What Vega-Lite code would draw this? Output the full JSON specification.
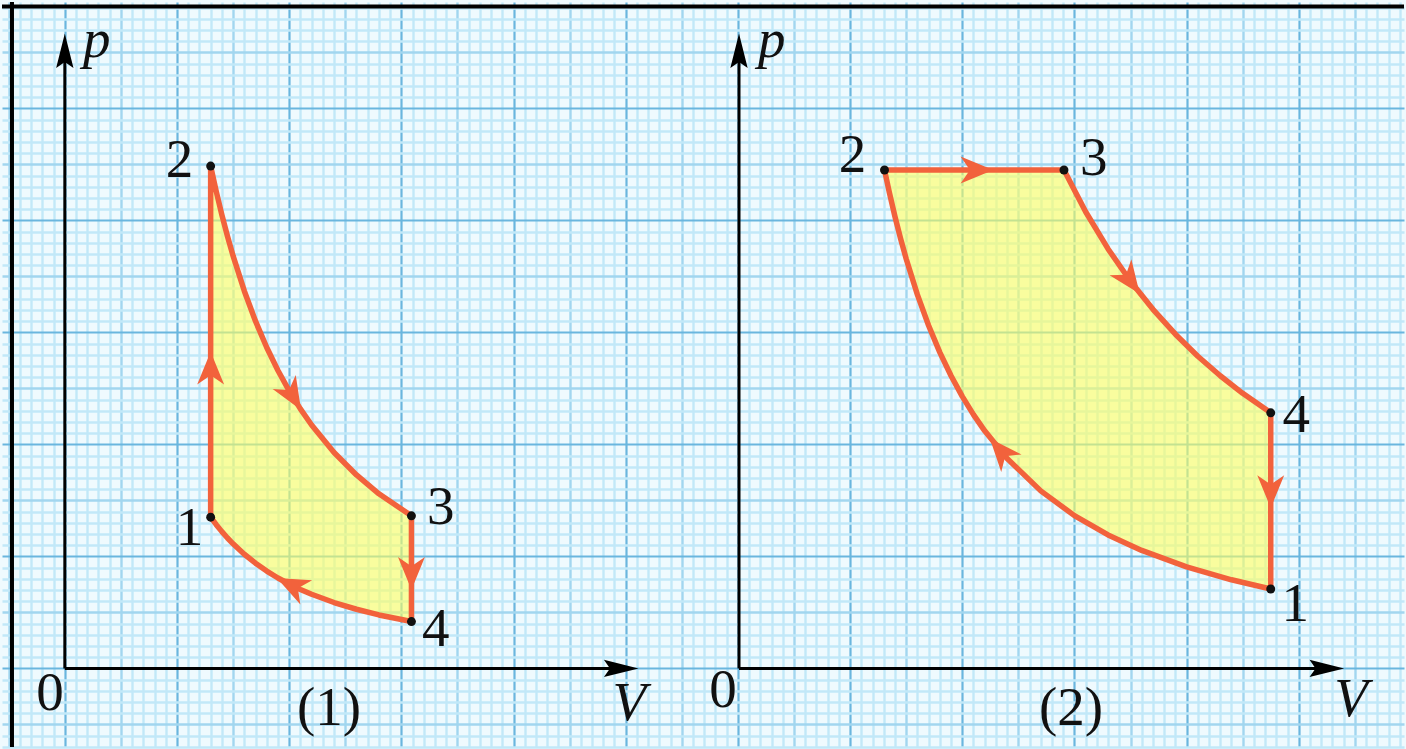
{
  "$schema": "https://vega.github.io/schema/vega-lite/v6.json",
  "width": 1406,
  "height": 749,
  "autosize": {"type": "fit", "contains": "padding"},
  "padding": 0,
  "background": "#effafe",
  "config": {"view": {"stroke": null}},
  "datasets": {
    "fill": [
      {"g": "L", "x": 13, "y": 44.85, "y2": 13.5},
      {"g": "L", "x": 13.5, "y": 42.58, "y2": 12.83},
      {"g": "L", "x": 14, "y": 40.5, "y2": 12.21},
      {"g": "L", "x": 14.5, "y": 38.59, "y2": 11.64},
      {"g": "L", "x": 15, "y": 36.83, "y2": 11.12},
      {"g": "L", "x": 16, "y": 33.7, "y2": 10.19},
      {"g": "L", "x": 17, "y": 31.0, "y2": 9.39},
      {"g": "L", "x": 18, "y": 28.65, "y2": 8.69},
      {"g": "L", "x": 19, "y": 26.6, "y2": 8.07},
      {"g": "L", "x": 20, "y": 24.78, "y2": 7.53},
      {"g": "L", "x": 21, "y": 23.17, "y2": 7.05},
      {"g": "L", "x": 22, "y": 21.73, "y2": 6.62},
      {"g": "L", "x": 24, "y": 19.28, "y2": 5.88},
      {"g": "L", "x": 26, "y": 17.27, "y2": 5.28},
      {"g": "L", "x": 28, "y": 15.59, "y2": 4.77},
      {"g": "L", "x": 30.9, "y": 13.62, "y2": 4.18},
      {"g": "R", "x": 73.07, "y": 44.5, "y2": 44.5},
      {"g": "R", "x": 73.5, "y": 44.5, "y2": 42.5},
      {"g": "R", "x": 74, "y": 44.5, "y2": 40.35},
      {"g": "R", "x": 74.5, "y": 44.5, "y2": 38.39},
      {"g": "R", "x": 75, "y": 44.5, "y2": 36.58},
      {"g": "R", "x": 76, "y": 44.5, "y2": 33.37},
      {"g": "R", "x": 77, "y": 44.5, "y2": 30.61},
      {"g": "R", "x": 78, "y": 44.5, "y2": 28.22},
      {"g": "R", "x": 79, "y": 44.5, "y2": 26.13},
      {"g": "R", "x": 80, "y": 44.5, "y2": 24.29},
      {"g": "R", "x": 81, "y": 44.5, "y2": 22.66},
      {"g": "R", "x": 82, "y": 44.5, "y2": 21.21},
      {"g": "R", "x": 84, "y": 44.5, "y2": 18.74},
      {"g": "R", "x": 87, "y": 44.5, "y2": 15.85},
      {"g": "R", "x": 89.07, "y": 44.5, "y2": 14.27},
      {"g": "R", "x": 90, "y": 42.63, "y2": 13.64},
      {"g": "R", "x": 91, "y": 40.77, "y2": 13.02},
      {"g": "R", "x": 93, "y": 37.45, "y2": 11.91},
      {"g": "R", "x": 95, "y": 34.57, "y2": 10.96},
      {"g": "R", "x": 97, "y": 32.06, "y2": 10.12},
      {"g": "R", "x": 99, "y": 29.84, "y2": 9.39},
      {"g": "R", "x": 101, "y": 27.87, "y2": 8.75},
      {"g": "R", "x": 103, "y": 26.13, "y2": 8.18},
      {"g": "R", "x": 105, "y": 24.56, "y2": 7.66},
      {"g": "R", "x": 107.5, "y": 22.82, "y2": 7.09}
    ],
    "cycle": [
      {"g": "L", "i": 0, "x": 13, "y": 13.5},
      {"g": "L", "i": 1, "x": 13, "y": 44.85},
      {"g": "L", "i": 1.5, "x": 13.5, "y": 42.58},
      {"g": "L", "i": 2, "x": 14, "y": 40.5},
      {"g": "L", "i": 2.5, "x": 14.5, "y": 38.59},
      {"g": "L", "i": 3, "x": 15, "y": 36.83},
      {"g": "L", "i": 4, "x": 16, "y": 33.7},
      {"g": "L", "i": 5, "x": 17, "y": 31.0},
      {"g": "L", "i": 6, "x": 18, "y": 28.65},
      {"g": "L", "i": 6.5, "x": 19, "y": 26.6},
      {"g": "L", "i": 7, "x": 20, "y": 24.78},
      {"g": "L", "i": 7.5, "x": 21, "y": 23.17},
      {"g": "L", "i": 8, "x": 22, "y": 21.73},
      {"g": "L", "i": 9, "x": 24, "y": 19.28},
      {"g": "L", "i": 10, "x": 26, "y": 17.27},
      {"g": "L", "i": 11, "x": 28, "y": 15.59},
      {"g": "L", "i": 12, "x": 30.9, "y": 13.62},
      {"g": "L", "i": 13, "x": 30.9, "y": 4.18},
      {"g": "L", "i": 14, "x": 28, "y": 4.77},
      {"g": "L", "i": 15, "x": 26, "y": 5.28},
      {"g": "L", "i": 16, "x": 24, "y": 5.88},
      {"g": "L", "i": 17, "x": 22, "y": 6.62},
      {"g": "L", "i": 17.5, "x": 21, "y": 7.05},
      {"g": "L", "i": 18, "x": 20, "y": 7.53},
      {"g": "L", "i": 18.5, "x": 19, "y": 8.07},
      {"g": "L", "i": 19, "x": 18, "y": 8.69},
      {"g": "L", "i": 20, "x": 17, "y": 9.39},
      {"g": "L", "i": 21, "x": 16, "y": 10.19},
      {"g": "L", "i": 22, "x": 15, "y": 11.12},
      {"g": "L", "i": 22.5, "x": 14.5, "y": 11.64},
      {"g": "L", "i": 23, "x": 14, "y": 12.21},
      {"g": "L", "i": 23.5, "x": 13.5, "y": 12.83},
      {"g": "L", "i": 24, "x": 13, "y": 13.5},
      {"g": "R", "i": 0, "x": 73.07, "y": 44.5},
      {"g": "R", "i": 1, "x": 89.07, "y": 44.5},
      {"g": "R", "i": 2, "x": 91, "y": 40.77},
      {"g": "R", "i": 3, "x": 93, "y": 37.45},
      {"g": "R", "i": 4, "x": 95, "y": 34.57},
      {"g": "R", "i": 5, "x": 97, "y": 32.06},
      {"g": "R", "i": 6, "x": 99, "y": 29.84},
      {"g": "R", "i": 7, "x": 101, "y": 27.87},
      {"g": "R", "i": 8, "x": 103, "y": 26.13},
      {"g": "R", "i": 9, "x": 105, "y": 24.56},
      {"g": "R", "i": 10, "x": 107.5, "y": 22.82},
      {"g": "R", "i": 11, "x": 107.5, "y": 7.09},
      {"g": "R", "i": 12, "x": 104, "y": 7.91},
      {"g": "R", "i": 13, "x": 100, "y": 9.06},
      {"g": "R", "i": 14, "x": 96, "y": 10.53},
      {"g": "R", "i": 15, "x": 93, "y": 11.91},
      {"g": "R", "i": 16, "x": 90, "y": 13.64},
      {"g": "R", "i": 17, "x": 87, "y": 15.85},
      {"g": "R", "i": 18, "x": 84, "y": 18.74},
      {"g": "R", "i": 19, "x": 82, "y": 21.21},
      {"g": "R", "i": 19.5, "x": 81, "y": 22.66},
      {"g": "R", "i": 20, "x": 80, "y": 24.29},
      {"g": "R", "i": 20.5, "x": 79, "y": 26.13},
      {"g": "R", "i": 21, "x": 78, "y": 28.22},
      {"g": "R", "i": 22, "x": 77, "y": 30.61},
      {"g": "R", "i": 23, "x": 76, "y": 33.37},
      {"g": "R", "i": 24, "x": 75, "y": 36.58},
      {"g": "R", "i": 24.5, "x": 74.5, "y": 38.39},
      {"g": "R", "i": 25, "x": 74, "y": 40.35},
      {"g": "R", "i": 25.5, "x": 73.5, "y": 42.5},
      {"g": "R", "i": 26, "x": 73.07, "y": 44.5}
    ],
    "axes": [
      {"x": 0, "y": 0, "x2": 0, "y2": 55.3},
      {"x": 0, "y": 0, "x2": 49.8, "y2": 0},
      {"x": 60.1, "y": 0, "x2": 60.1, "y2": 55.3},
      {"x": 60.1, "y": 0, "x2": 112.4, "y2": 0}
    ],
    "axisHeads": [
      {"x": 0, "y": 55.15, "a": 0},
      {"x": 49.6, "y": 0, "a": 90},
      {"x": 60.1, "y": 55.15, "a": 0},
      {"x": 112.5, "y": 0, "a": 90}
    ],
    "curveHeads": [
      {"x": 13.0, "y": 26.6, "a": 0},
      {"x": 20.2, "y": 24.5, "a": 149},
      {"x": 30.9, "y": 8.7, "a": 180},
      {"x": 20.4, "y": 7.33, "a": 296},
      {"x": 81.1, "y": 44.5, "a": 90},
      {"x": 94.84, "y": 34.8, "a": 144},
      {"x": 107.5, "y": 16.0, "a": 180},
      {"x": 83.56, "y": 19.26, "a": 319}
    ],
    "dots": [
      {"x": 13, "y": 13.5},
      {"x": 13, "y": 44.85},
      {"x": 30.9, "y": 13.62},
      {"x": 30.9, "y": 4.18},
      {"x": 73.07, "y": 44.5},
      {"x": 89.07, "y": 44.5},
      {"x": 107.5, "y": 22.82},
      {"x": 107.5, "y": 7.09}
    ],
    "labels": [
      {"t": "2", "x": 10.22, "y": 45.38},
      {"t": "1", "x": 11.11, "y": 12.52},
      {"t": "3", "x": 33.51, "y": 14.39},
      {"t": "4", "x": 33.07, "y": 3.55},
      {"t": "0", "x": -1.33, "y": -2.22},
      {"t": "(1)", "x": 23.56, "y": -3.55},
      {"t": "2", "x": 70.22, "y": 45.83},
      {"t": "3", "x": 91.73, "y": 45.56},
      {"t": "4", "x": 109.78, "y": 22.65},
      {"t": "1", "x": 109.69, "y": 5.77},
      {"t": "0", "x": 58.67, "y": -1.95},
      {"t": "(2)", "x": 89.69, "y": -3.55}
    ],
    "italicLabels": [
      {"t": "p", "x": 2.84, "y": 56.13},
      {"t": "V", "x": 50.31, "y": -3.11},
      {"t": "p", "x": 63.02, "y": 56.13},
      {"t": "V", "x": 114.67, "y": -2.75}
    ],
    "frame": [
      {"x": -5.6, "x2": 119.38, "y": 59.1, "y2": 59.1},
      {"x": -4.71, "x2": -4.71, "y": -7.02, "y2": 59.5}
    ]
  },
  "encoding": {
    "x": {
      "field": "x",
      "type": "quantitative",
      "scale": {"domain": [-5.6, 119.38], "nice": false, "zero": false},
      "axis": {
        "values": [-5,-4,-3,-2,-1,0,1,2,3,4,5,6,7,8,9,10,11,12,13,14,15,16,17,18,19,20,21,22,23,24,25,26,27,28,29,30,31,32,33,34,35,36,37,38,39,40,41,42,43,44,45,46,47,48,49,50,51,52,53,54,55,56,57,58,59,60,61,62,63,64,65,66,67,68,69,70,71,72,73,74,75,76,77,78,79,80,81,82,83,84,85,86,87,88,89,90,91,92,93,94,95,96,97,98,99,100,101,102,103,104,105,106,107,108,109,110,111,112,113,114,115,116,117,118,119],
        "labels": false,
        "ticks": false,
        "domain": false,
        "title": null,
        "grid": true,
        "gridColor": {"condition": [{"test": "datum.value % 10 === 0", "value": "#6ab6de"}, {"test": "datum.value % 5 === 0", "value": "#a2d6ef"}], "value": "#c2e8f8"},
        "gridWidth": {"condition": {"test": "datum.value % 10 === 0", "value": 2.2}, "value": 2.4}
      }
    },
    "y": {
      "field": "y",
      "type": "quantitative",
      "scale": {"domain": [-7.02, 59.5], "nice": false, "zero": false},
      "axis": {
        "values": [-7,-6,-5,-4,-3,-2,-1,0,1,2,3,4,5,6,7,8,9,10,11,12,13,14,15,16,17,18,19,20,21,22,23,24,25,26,27,28,29,30,31,32,33,34,35,36,37,38,39,40,41,42,43,44,45,46,47,48,49,50,51,52,53,54,55,56,57,58,59],
        "labels": false,
        "ticks": false,
        "domain": false,
        "title": null,
        "grid": true,
        "gridColor": {"condition": [{"test": "datum.value % 10 === 0", "value": "#6ab6de"}, {"test": "datum.value % 5 === 0", "value": "#a2d6ef"}], "value": "#c2e8f8"},
        "gridWidth": {"condition": {"test": "datum.value % 10 === 0", "value": 2.2}, "value": 2.4}
      }
    }
  },
  "layer": [
    {
      "data": {"name": "fill"},
      "mark": {"type": "area", "color": "#ffff5e", "opacity": 0.6},
      "encoding": {"y2": {"field": "y2"}, "detail": {"field": "g"}}
    },
    {
      "data": {"name": "axes"},
      "mark": {"type": "rule", "color": "#000000", "strokeWidth": 3},
      "encoding": {"x2": {"field": "x2"}, "y2": {"field": "y2"}}
    },
    {
      "data": {"name": "axisHeads"},
      "mark": {"type": "point", "shape": "M0,-1L0.5,1L0,0.65L-0.5,1Z", "filled": true, "color": "#000000", "opacity": 1, "size": 1200},
      "encoding": {"angle": {"field": "a", "type": "quantitative", "scale": null}}
    },
    {
      "data": {"name": "cycle"},
      "mark": {"type": "line", "color": "#f2623c", "strokeWidth": 5.5, "strokeJoin": "round", "strokeCap": "round"},
      "encoding": {"order": {"field": "i"}, "detail": {"field": "g"}}
    },
    {
      "data": {"name": "curveHeads"},
      "mark": {"type": "point", "shape": "M0,-1L0.72,0.75L0,0.25L-0.72,0.75Z", "filled": true, "color": "#f2623c", "opacity": 1, "size": 1400},
      "encoding": {"angle": {"field": "a", "type": "quantitative", "scale": null}}
    },
    {
      "data": {"name": "dots"},
      "mark": {"type": "circle", "color": "#111111", "opacity": 1, "size": 80}
    },
    {
      "data": {"name": "labels"},
      "mark": {"type": "text", "font": "Liberation Serif", "fontSize": 55, "color": "#111111", "align": "center", "baseline": "middle"},
      "encoding": {"text": {"field": "t"}}
    },
    {
      "data": {"name": "italicLabels"},
      "mark": {"type": "text", "font": "Liberation Serif", "fontStyle": "italic", "fontSize": 55, "color": "#111111", "align": "center", "baseline": "middle"},
      "encoding": {"text": {"field": "t"}}
    },
    {
      "data": {"name": "frame"},
      "mark": {"type": "rule", "color": "#000000", "strokeWidth": 4},
      "encoding": {"x2": {"field": "x2"}, "y2": {"field": "y2"}}
    }
  ]
}
